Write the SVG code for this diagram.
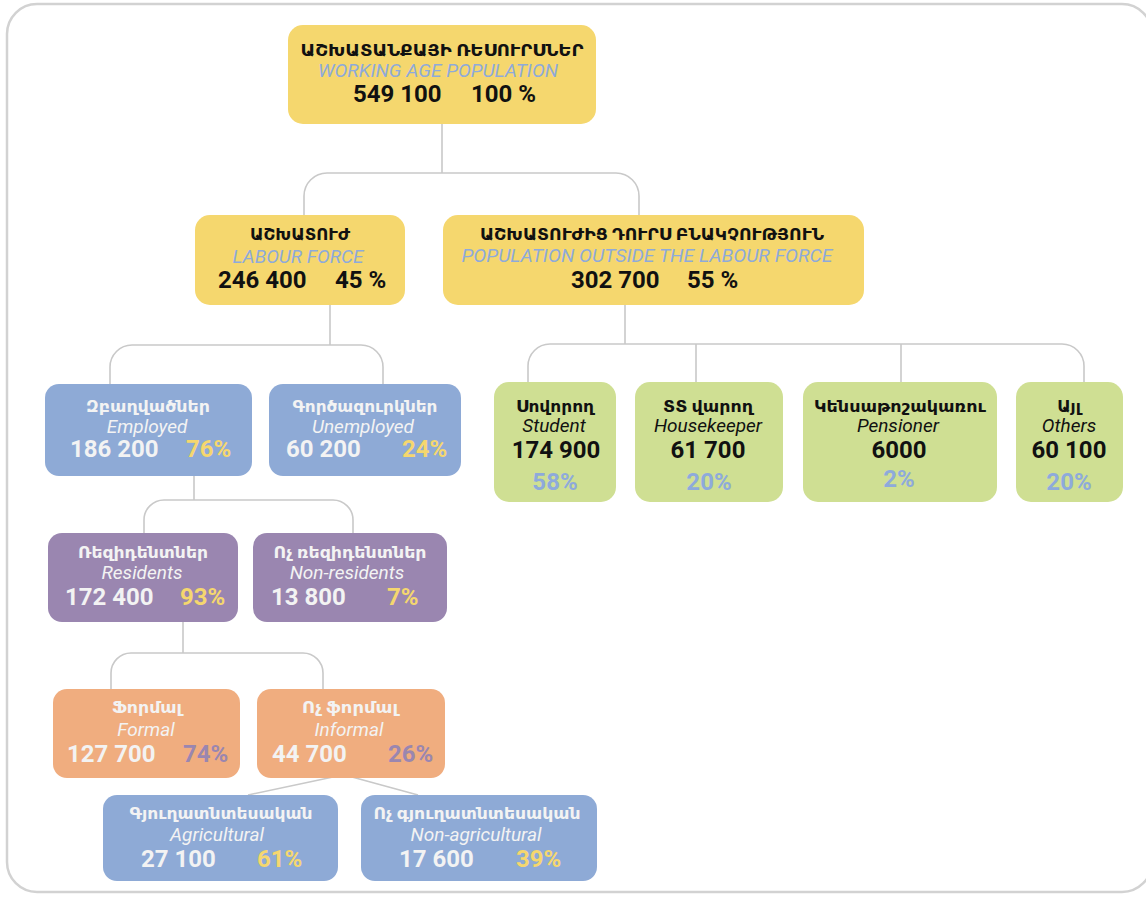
<svg xmlns="http://www.w3.org/2000/svg" width="1146" height="897" viewBox="0 0 1146 897">
<style>
.frame{fill:#ffffff;stroke:#d2d2d2;stroke-width:2.5}
.con{fill:none;stroke:#c9c9c9;stroke-width:1.6}
.y{fill:#f5d76e}.b{fill:#8eaad6}.p{fill:#9a86b0}.o{fill:#f0ad7f}.g{fill:#cfdf93}
.arm{font-family:Roboto,"DejaVu Sans",sans-serif;font-weight:bold;font-size:16.5px;text-anchor:middle}
.en{font-family:Roboto,"Liberation Sans",sans-serif;font-style:italic;font-size:19px;text-anchor:middle}
.num{font-family:Roboto,"Liberation Sans",sans-serif;font-weight:bold;font-size:24px}
.mid{text-anchor:middle}
.k{fill:#111111}.w{fill:#f3f3f3}.lb{fill:#8eaadb}.yt{fill:#f5d76e}.pt{fill:#9a86b0}
</style>
<rect class="frame" x="7" y="4" width="1145" height="888" rx="30"/>
<g id="connectors">
<path class="con" d="M442,124 V173 M304,215 V196 A23,23 0 0 1 327,173 H616 A23,23 0 0 1 639,196 V215"/>
<path class="con" d="M330,305 V345 M110,384 V367 A22,22 0 0 1 132,345 H361 A22,22 0 0 1 383,367 V384"/>
<path class="con" d="M625,305 V344 M528,382 V366 A22,22 0 0 1 550,344 H1062 A22,22 0 0 1 1084,366 V382 M696,344 V382 M901,344 V382"/>
<path class="con" d="M194,476 V500 M144,533 V520 A20,20 0 0 1 164,500 H333 A20,20 0 0 1 353,520 V533"/>
<path class="con" d="M183,622 V653 M111,689 V673 A20,20 0 0 1 131,653 H303 A20,20 0 0 1 323,673 V689"/>
<path class="con" d="M333,777 L248,795 M352,777 L418,795"/>
</g>
<g id="root">
<rect class="y" x="288" y="25" width="308" height="99" rx="15"/>
<text class="arm k" x="442" y="56" textLength="283" lengthAdjust="spacingAndGlyphs">ԱՇԽԱՏԱՆՔԱՅԻ ՌԵՍՈՒՐՍՆԵՐ</text>
<text class="en lb" x="438" y="77" textLength="240" lengthAdjust="spacingAndGlyphs">WORKING AGE POPULATION</text>
<text class="num k" x="353" y="102">549 100</text>
<text class="num k" x="471" y="102">100 %</text>
</g>
<g id="labour">
<rect class="y" x="195" y="215" width="210" height="90" rx="15"/>
<text class="arm k" x="300" y="240" textLength="100" lengthAdjust="spacingAndGlyphs">ԱՇԽԱՏՈՒԺ</text>
<text class="en lb" x="298" y="263">LABOUR FORCE</text>
<text class="num k" x="218" y="288">246 400</text>
<text class="num k" x="335" y="288">45 %</text>
</g>
<g id="outside">
<rect class="y" x="443" y="215" width="421" height="90" rx="15"/>
<text class="arm k" x="652" y="240" textLength="344" lengthAdjust="spacingAndGlyphs">ԱՇԽԱՏՈՒԺԻՑ ԴՈՒՐՍ ԲՆԱԿՉՈՒԹՅՈՒՆ</text>
<text class="en lb" x="647" y="262" style="font-size:18px" textLength="371" lengthAdjust="spacingAndGlyphs">POPULATION OUTSIDE THE LABOUR FORCE</text>
<text class="num k" x="571" y="288">302 700</text>
<text class="num k" x="687" y="288">55 %</text>
</g>
<g id="employed">
<rect class="b" x="45" y="384" width="207" height="92" rx="14"/>
<text class="arm w" x="148" y="412" textLength="124" lengthAdjust="spacingAndGlyphs">Զբաղվածներ</text>
<text class="en w" x="147" y="433">Employed</text>
<text class="num w" x="70" y="457">186 200</text>
<text class="num yt" x="186" y="457">76%</text>
</g>
<g id="unemployed">
<rect class="b" x="269" y="384" width="192" height="92" rx="14"/>
<text class="arm w" x="365" y="412" textLength="145" lengthAdjust="spacingAndGlyphs">Գործազուրկներ</text>
<text class="en w" x="363" y="433">Unemployed</text>
<text class="num w" x="286" y="457">60 200</text>
<text class="num yt" x="402" y="457">24%</text>
</g>
<g id="student">
<rect class="g" x="494" y="382" width="122" height="120" rx="15"/>
<text class="arm k" x="555" y="412" textLength="78" lengthAdjust="spacingAndGlyphs">Սովորող</text>
<text class="en k" x="554" y="432">Student</text>
<text class="num k mid" x="556" y="458">174 900</text>
<text class="num lb mid" x="555" y="490">58%</text>
</g>
<g id="housekeeper">
<rect class="g" x="635" y="382" width="148" height="120" rx="15"/>
<text class="arm k" x="708" y="412" textLength="90" lengthAdjust="spacingAndGlyphs">ՏՏ վարող</text>
<text class="en k" x="708" y="432">Housekeeper</text>
<text class="num k mid" x="708" y="458">61 700</text>
<text class="num lb mid" x="709" y="490">20%</text>
</g>
<g id="pensioner">
<rect class="g" x="803" y="382" width="194" height="120" rx="15"/>
<text class="arm k" x="900" y="412" textLength="172" lengthAdjust="spacingAndGlyphs">Կենսաթոշակառու</text>
<text class="en k" x="898" y="432">Pensioner</text>
<text class="num k mid" x="899" y="458">6000</text>
<text class="num lb mid" x="899" y="487">2%</text>
</g>
<g id="others">
<rect class="g" x="1016" y="382" width="107" height="120" rx="15"/>
<text class="arm k" x="1069" y="412">Այլ</text>
<text class="en k" x="1069" y="432">Others</text>
<text class="num k mid" x="1069" y="458">60 100</text>
<text class="num lb mid" x="1069" y="490">20%</text>
</g>
<g id="residents">
<rect class="p" x="48" y="533" width="190" height="89" rx="14"/>
<text class="arm w" x="143" y="558" textLength="130" lengthAdjust="spacingAndGlyphs">Ռեզիդենտներ</text>
<text class="en w" x="142" y="579">Residents</text>
<text class="num w" x="65" y="605">172 400</text>
<text class="num yt" x="180" y="605">93%</text>
</g>
<g id="nonresidents">
<rect class="p" x="253" y="533" width="194" height="89" rx="14"/>
<text class="arm w" x="350" y="558" textLength="153" lengthAdjust="spacingAndGlyphs">Ոչ ռեզիդենտներ</text>
<text class="en w" x="347" y="579">Non-residents</text>
<text class="num w" x="271" y="605">13 800</text>
<text class="num yt" x="387" y="605">7%</text>
</g>
<g id="formal">
<rect class="o" x="53" y="689" width="187" height="89" rx="14"/>
<text class="arm w" x="147" y="713" textLength="70" lengthAdjust="spacingAndGlyphs">Ֆորմալ</text>
<text class="en w" x="146" y="736">Formal</text>
<text class="num w" x="67" y="762">127 700</text>
<text class="num pt" x="183" y="762">74%</text>
</g>
<g id="informal">
<rect class="o" x="257" y="689" width="188" height="89" rx="14"/>
<text class="arm w" x="350" y="713" textLength="96" lengthAdjust="spacingAndGlyphs">Ոչ ֆորմալ</text>
<text class="en w" x="349" y="736">Informal</text>
<text class="num w" x="272" y="762">44 700</text>
<text class="num pt" x="388" y="762">26%</text>
</g>
<g id="agricultural">
<rect class="b" x="103" y="795" width="235" height="86" rx="14"/>
<text class="arm w" x="221" y="819" textLength="183" lengthAdjust="spacingAndGlyphs">Գյուղատնտեսական</text>
<text class="en w" x="217" y="841">Agricultural</text>
<text class="num w" x="141" y="867">27 100</text>
<text class="num yt" x="257" y="867">61%</text>
</g>
<g id="nonagricultural">
<rect class="b" x="361" y="795" width="236" height="86" rx="14"/>
<text class="arm w" x="477" y="819" textLength="207" lengthAdjust="spacingAndGlyphs">Ոչ գյուղատնտեսական</text>
<text class="en w" x="476" y="841">Non-agricultural</text>
<text class="num w" x="399" y="867">17 600</text>
<text class="num yt" x="516" y="867">39%</text>
</g>
</svg>
